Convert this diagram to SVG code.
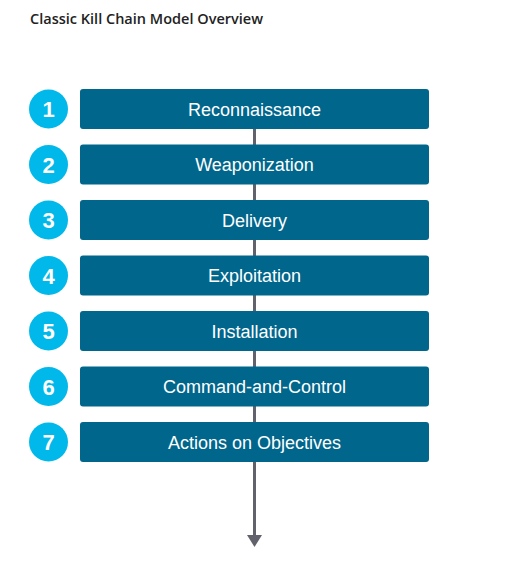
<svg xmlns="http://www.w3.org/2000/svg" width="517" height="561" viewBox="0 0 517 561">
<style>
.box{fill:#00668c;}
.circ{fill:#00b8ea;}
.lbl{font-family:"Liberation Sans",Arial,sans-serif;font-size:18px;fill:#ffffff;text-anchor:middle;}
.num{font-family:"Liberation Sans",Arial,sans-serif;font-size:22px;font-weight:bold;fill:#ffffff;text-anchor:middle;}
.title{font-family:"Open Sans","Noto Sans",sans-serif;font-size:14px;font-weight:600;fill:#222222;}
</style>
<rect width="517" height="561" fill="#ffffff"/>
<text class="title" x="30" y="24" textLength="233" lengthAdjust="spacingAndGlyphs">Classic Kill Chain Model Overview</text>
<g id="connectors">
<line x1="254.5" y1="129" x2="254.5" y2="535" stroke="#62626c" stroke-width="3"/>
<polygon points="247,535 262,535 254.5,547" fill="#62626c"/>
</g>
<g id="node1"><rect class="box" x="80" y="89" width="349" height="40" rx="3"/><text class="lbl" x="254.5" y="115.5">Reconnaissance</text><circle class="circ" cx="48.5" cy="109" r="19.5"/><text class="num" x="48.5" y="117">1</text></g>
<g id="node2"><rect class="box" x="80" y="144.5" width="349" height="40" rx="3"/><text class="lbl" x="254.5" y="171">Weaponization</text><circle class="circ" cx="48.5" cy="164.5" r="19.5"/><text class="num" x="48.5" y="172.5">2</text></g>
<g id="node3"><rect class="box" x="80" y="200" width="349" height="40" rx="3"/><text class="lbl" x="254.5" y="226.5">Delivery</text><circle class="circ" cx="48.5" cy="220" r="19.5"/><text class="num" x="48.5" y="228">3</text></g>
<g id="node4"><rect class="box" x="80" y="255.5" width="349" height="40" rx="3"/><text class="lbl" x="254.5" y="282">Exploitation</text><circle class="circ" cx="48.5" cy="275.5" r="19.5"/><text class="num" x="48.5" y="283.5">4</text></g>
<g id="node5"><rect class="box" x="80" y="311" width="349" height="40" rx="3"/><text class="lbl" x="254.5" y="337.5">Installation</text><circle class="circ" cx="48.5" cy="331" r="19.5"/><text class="num" x="48.5" y="339">5</text></g>
<g id="node6"><rect class="box" x="80" y="366.5" width="349" height="40" rx="3"/><text class="lbl" x="254.5" y="393">Command-and-Control</text><circle class="circ" cx="48.5" cy="386.5" r="19.5"/><text class="num" x="48.5" y="394.5">6</text></g>
<g id="node7"><rect class="box" x="80" y="422" width="349" height="40" rx="3"/><text class="lbl" x="254.5" y="448.5">Actions on Objectives</text><circle class="circ" cx="48.5" cy="442" r="19.5"/><text class="num" x="48.5" y="450">7</text></g>
</svg>
